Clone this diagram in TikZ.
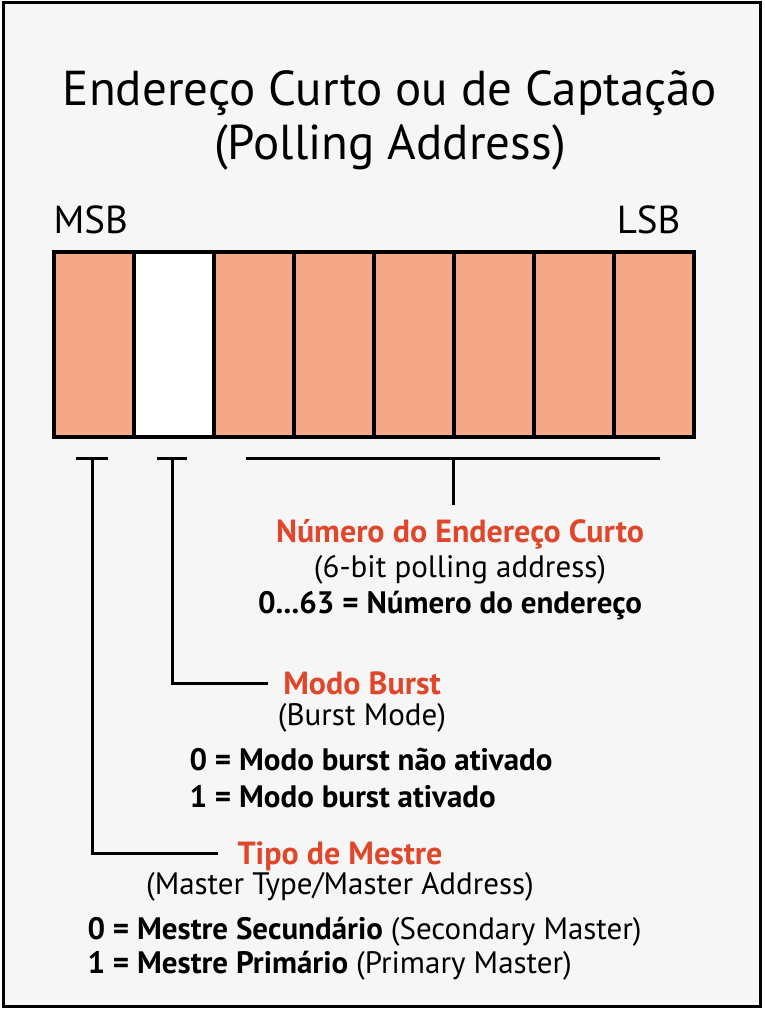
\documentclass[tikz,border=0pt]{standalone}
\usepackage{fontspec}
\setmainfont{PT Sans}
\usepackage{tikz}

\definecolor{bitfill}{HTML}{F4A886}
\definecolor{labelred}{HTML}{E0472A}
\definecolor{paper}{HTML}{F6F6F6}

\tikzset{
  bitcell/.style={draw=black, line width=3.5pt, fill=bitfill, minimum width=80pt, minimum height=185pt, anchor=north west, inner sep=0pt},
  bracket/.style={line width=3pt},
  headtext/.style={font=\fontsize{49}{54}\selectfont},
  endtext/.style={font=\fontsize{39}{44}\selectfont},
  fieldname/.style={text=labelred, font=\fontsize{32}{36}\selectfont\bfseries},
  fieldsub/.style={font=\fontsize{31}{36}\selectfont},
  fieldval/.style={font=\fontsize{31}{36}\selectfont\bfseries, anchor=west}
}

\begin{document}
\begin{tikzpicture}[x=1pt,y=-1pt]
  \useasboundingbox (0,0) rectangle (764,1024);
  % Frame
  \draw[fill=paper, line width=3pt] (3,3) rectangle (760,1006);

  % Title
  \node[headtext] (title) at (390,93) {Endereço Curto ou de Captação};
  \node[headtext] (subtitle) at (390,147) {(Polling Address)};
  \node[endtext, anchor=west] (msb) at (50,220) {MSB};
  \node[endtext, anchor=east] (lsb) at (684,220) {LSB};

  % Bit cells
  \foreach \i in {0,...,7}
    \node[bitcell] (bit\i) at (52+80*\i,250) {};
  \node[bitcell, fill=white] at (132,250) {};

  % Brackets
  \coordinate (tA) at (92,458);
  \coordinate (tB) at (172,458);
  \coordinate (tC) at (453,458);
  \coordinate (eA) at (218,853);
  \coordinate (eB) at (268,683);
  \coordinate (eC) at (453,505);
  \draw[bracket] (76,458) -- (108,458);
  \draw[bracket] (157,458) -- (187,458);
  \draw[bracket] (246,458) -- (660,458);
  \draw[bracket] (tA) |- (eA);
  \draw[bracket] (tB) |- (eB);
  \draw[bracket] (tC) -- (eC);

  % Field labels
  \node[fieldname] (numname) at (460,534) {Número do Endereço Curto};
  \node[fieldsub] (numsub) at (460,570) {(6-bit polling address)};
  \node[fieldsub, font=\fontsize{31}{36}\selectfont\bfseries] (numval) at (450,606) {0...63 = Número do endereço};

  \node[fieldname] (burstname) at (362,683) {Modo Burst};
  \node[fieldsub] (burstsub) at (362,718) {(Burst Mode)};
  \node[fieldval] (burst0) at (186,760) {0 = Modo burst não ativado};
  \node[fieldval] (burst1) at (186,797) {1 = Modo burst ativado};

  \node[fieldname] (mastname) at (340,856) {Tipo de Mestre};
  \node[fieldsub] (mastsub) at (340,887) {(Master Type/Master Address)};
  \node[fieldval] (mast0) at (84,932) {0 = Mestre Secundário \mdseries(Secondary Master)};
  \node[fieldval] (mast1) at (84,966) {1 = Mestre Primário \mdseries(Primary Master)};
\end{tikzpicture}
\end{document}
